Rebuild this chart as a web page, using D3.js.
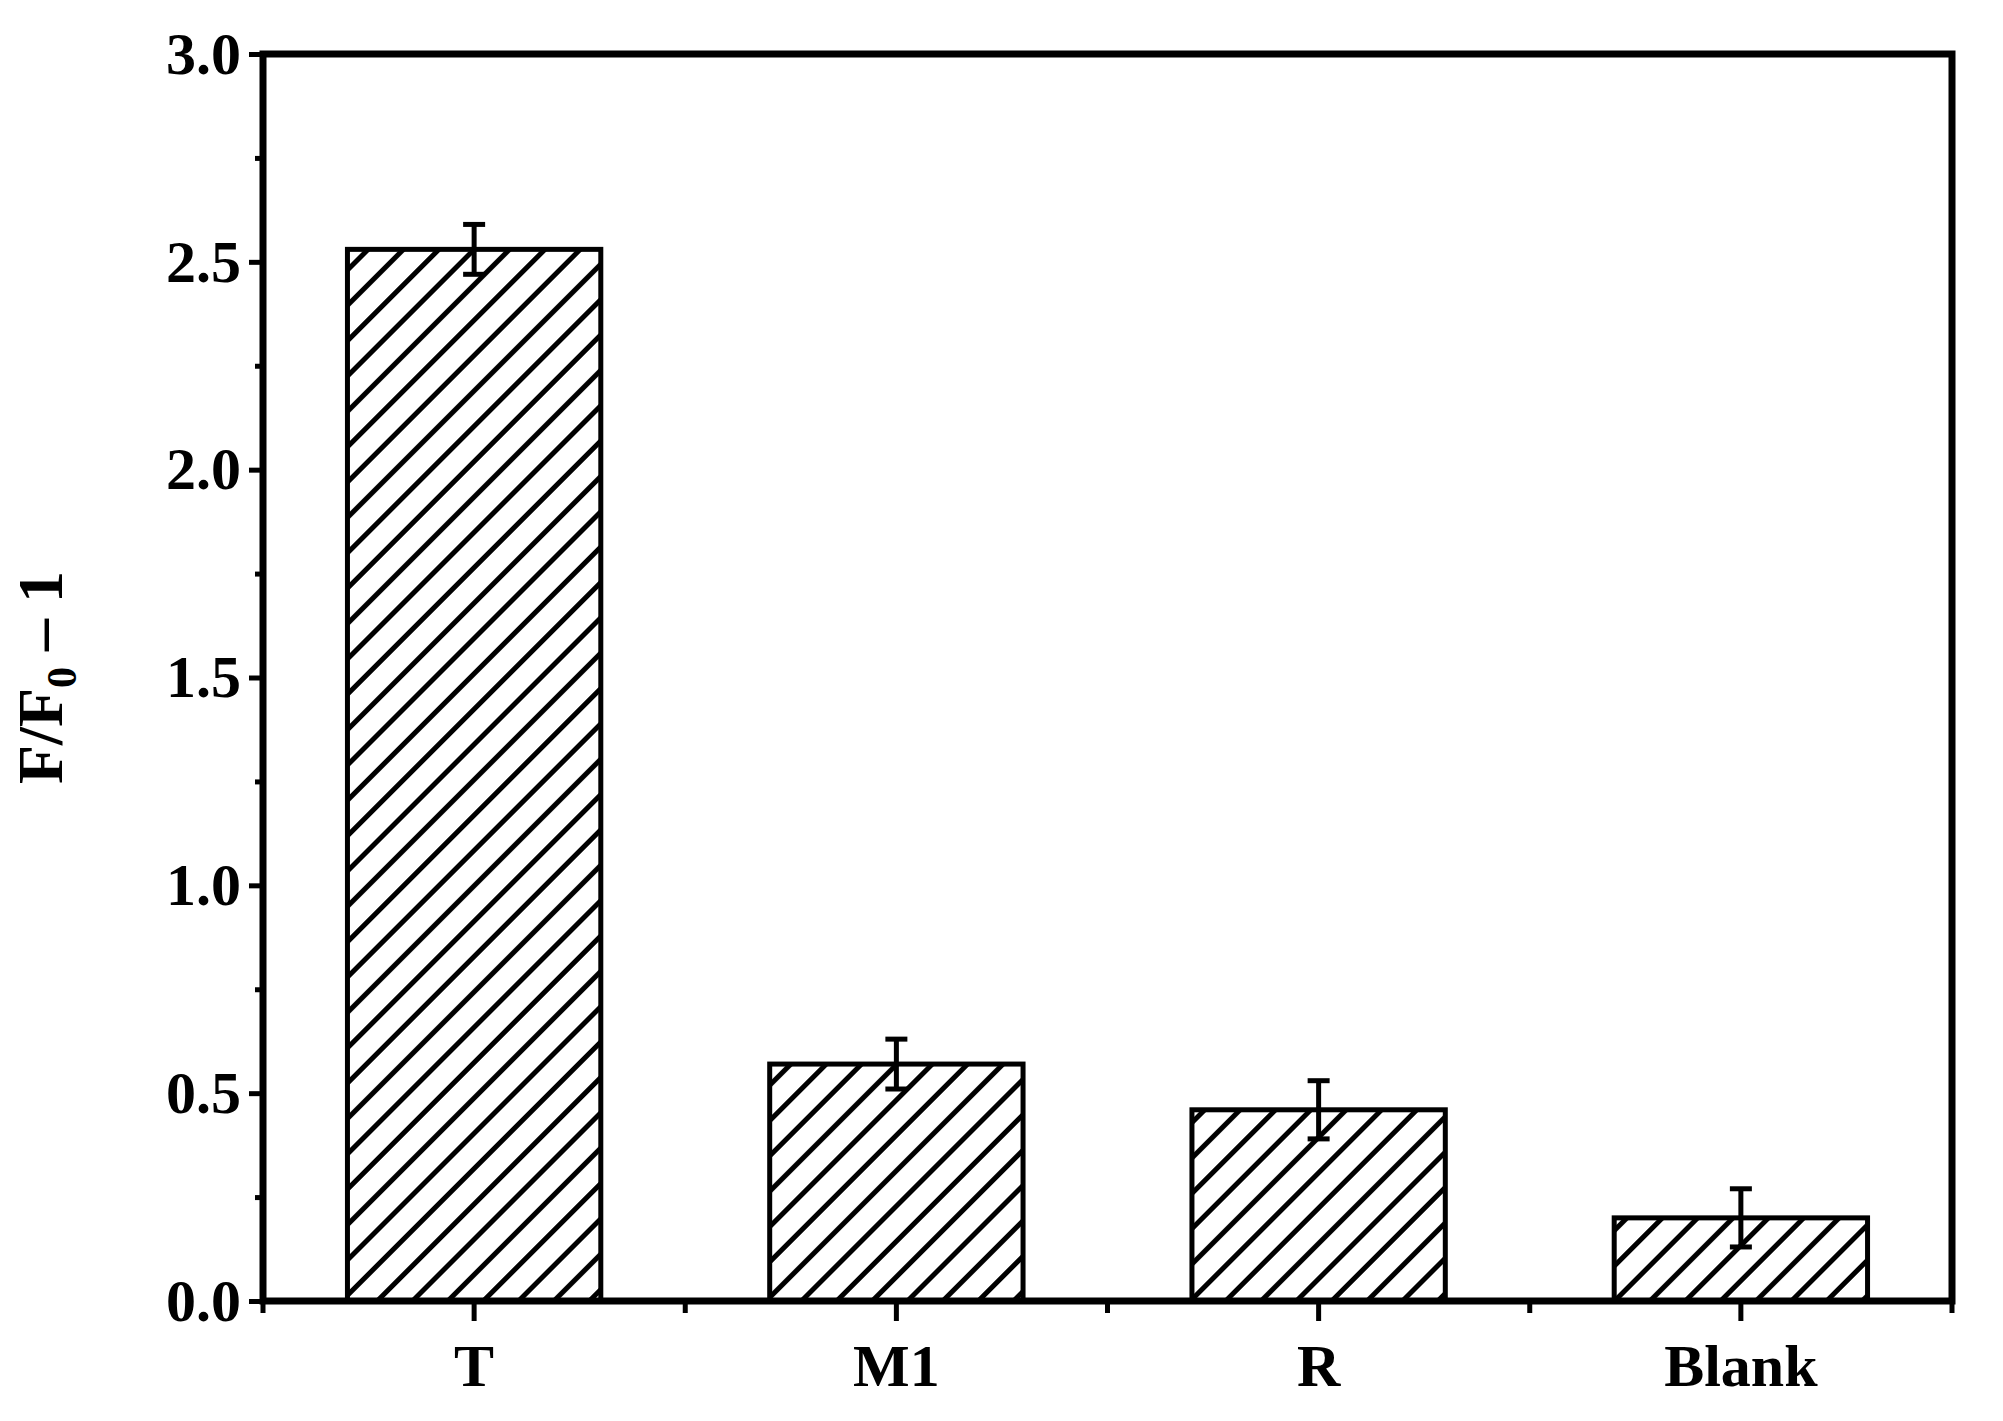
<!DOCTYPE html>
<html><head><meta charset="utf-8">
<script src="https://cdn.jsdelivr.net/npm/d3@7"></script>
<style>body{margin:0;background:#fff}</style></head>
<body><div id="chart"></div>
<script>
var categories = ["T", "M1", "R", "Blank"];
var values = [2.53, 0.57, 0.46, 0.20];
var errors = [0.06, 0.06, 0.07, 0.07];
var yTicks = [0, 0.5, 1.0, 1.5, 2.0, 2.5, 3.0];

var W = 2003, H = 1421;
var margin = {top: 54, right: 51, bottom: 120, left: 263};
var width = W - margin.left - margin.right, height = H - margin.top - margin.bottom;
var FONT = "'Liberation Serif','Times New Roman',serif";

var svg = d3.select("#chart").append("svg").attr("width", W).attr("height", H);
var defs = svg.append("defs");
defs.append("pattern").attr("id", "hatch").attr("patternUnits", "userSpaceOnUse")
    .attr("width", 25).attr("height", 25).attr("patternTransform", "rotate(45)")
    .append("line").attr("x1", 12.5).attr("y1", 0).attr("x2", 12.5).attr("y2", 25)
    .attr("stroke", "#000").attr("stroke-width", 5);

var g = svg.append("g").attr("transform", "translate(" + margin.left + "," + margin.top + ")");
var x = d3.scaleBand().domain(categories).range([0, width]).paddingInner(0.4).paddingOuter(0.2);
var y = d3.scaleLinear().domain([0, 3]).range([height, 0]);

g.selectAll(".bar").data(categories).enter().append("rect")
    .attr("x", function(d) { return x(d); })
    .attr("width", x.bandwidth())
    .attr("y", function(d, i) { return y(values[i]); })
    .attr("height", function(d, i) { return height - y(values[i]); })
    .attr("fill", "url(#hatch)").attr("stroke", "#000").attr("stroke-width", 5);

var eb = g.selectAll(".err").data(categories).enter().append("g")
    .attr("transform", function(d) { return "translate(" + (x(d) + x.bandwidth() / 2) + ",0)"; });
eb.append("line").attr("y1", function(d, i) { return y(values[i] - errors[i]); })
    .attr("y2", function(d, i) { return y(values[i] + errors[i]); });
eb.append("line").attr("x1", -11).attr("x2", 11)
    .attr("y1", function(d, i) { return y(values[i] + errors[i]); })
    .attr("y2", function(d, i) { return y(values[i] + errors[i]); });
eb.append("line").attr("x1", -11).attr("x2", 11)
    .attr("y1", function(d, i) { return y(values[i] - errors[i]); })
    .attr("y2", function(d, i) { return y(values[i] - errors[i]); });
eb.selectAll("line").attr("stroke", "#000").attr("stroke-width", 4);

// frame
g.append("rect").attr("width", width).attr("height", height)
    .attr("fill", "none").attr("stroke", "#000").attr("stroke-width", 7);

// y axis
var yAxis = g.append("g").call(d3.axisLeft(y).tickValues(yTicks).tickFormat(d3.format(".1f")).tickSize(14).tickPadding(8));
yAxis.select(".domain").remove();
g.append("g").call(d3.axisLeft(y).tickValues(d3.range(0.25, 3, 0.5)).tickFormat("").tickSize(8))
    .select(".domain").remove();

// x axis
var xAxis = g.append("g").attr("transform", "translate(0," + height + ")")
    .call(d3.axisBottom(x).tickSize(20).tickPadding(22));
xAxis.select(".domain").remove();
var step = x.step();
g.append("g").attr("transform", "translate(0," + height + ")").selectAll("line")
    .data(d3.range(0, categories.length + 1)).enter().append("line")
    .attr("x1", function(i) { return i * step; }).attr("x2", function(i) { return i * step; })
    .attr("y1", 0).attr("y2", 12);

g.selectAll(".tick line").attr("stroke-width", 5);
g.selectAll("g line").attr("stroke", "#000");
g.selectAll("g > g > line").attr("stroke-width", 5);
g.selectAll(".tick text").attr("font-family", FONT).attr("font-weight", "bold")
    .attr("font-size", 60).attr("fill", "#000");

// y label
var lab = svg.append("text").attr("transform", "translate(62," + (margin.top + height / 2) + ") rotate(-90)")
    .attr("text-anchor", "middle").attr("font-family", FONT).attr("font-weight", "bold")
    .attr("font-size", 64);
lab.append("tspan").text("F/F");
lab.append("tspan").attr("font-size", 42).attr("dy", 14).text("0");
lab.append("tspan").attr("dy", -14).text(" \u2013 1");
</script></body></html>
